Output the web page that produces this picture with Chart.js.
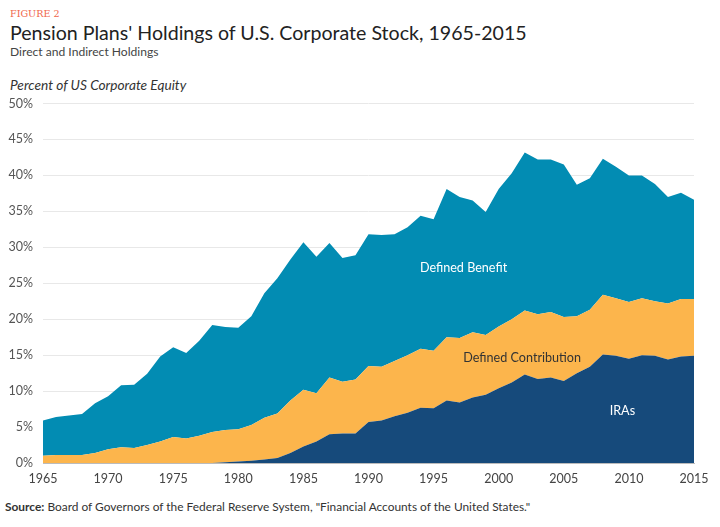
<!DOCTYPE html>
<html>
<head>
<meta charset="utf-8">
<script src="https://cdn.jsdelivr.net/npm/chart.js@4/dist/chart.umd.min.js"></script>
<style>
  html, body { margin: 0; padding: 0; background: #fff; }
  body { width: 720px; height: 527px; position: relative; overflow: hidden; font-family: Lato, "Open Sans", sans-serif; }
  .fig { position: absolute; left: 10px; top: 8px; font-family: "DejaVu Serif", serif; font-size: 9.6px; color: #f0664a; }
  .title { position: absolute; left: 10px; top: 21px; font-size: 19.6px; color: #222; white-space: nowrap; }
  .sub { position: absolute; left: 10px; top: 44px; font-size: 12.1px; color: #444; white-space: nowrap; }
  .ytitle { position: absolute; left: 10px; top: 76px; font-size: 13.7px; font-style: italic; color: #333; white-space: nowrap; }
  .source { position: absolute; left: 5px; top: 499px; font-size: 11.9px; color: #333; white-space: nowrap; }
  .source b { font-weight: 700; }
  #wrap { position: absolute; left: 0; top: 86px; width: 720px; height: 409px; }
</style>
</head>
<body>
<div class="fig">FIGURE 2</div>
<div class="title">Pension Plans' Holdings of U.S. Corporate Stock, 1965-2015</div>
<div class="sub">Direct and Indirect Holdings</div>
<div class="ytitle">Percent of US Corporate Equity</div>
<div id="wrap"><canvas id="c"></canvas></div>
<div class="source"><b>Source:</b> Board of Governors of the Federal Reserve System, "Financial Accounts of the United States."</div>
<script>
const years = [];
for (let y = 1965; y <= 2015; y++) years.push(String(y));

const yTicks = [0, 5, 10, 15, 20, 25, 30, 35, 40, 45, 50];

// Percent of US corporate equity, by plan type (stacked components)
const iras = [0,0,0,0,0,0,0,0,0,0, 0,0,0,0,0.1,0.2,0.3,0.5,0.7,1.4,
  2.3,3.0,4.0,4.1,4.1,5.7,5.9,6.5,7.0,7.7, 7.6,8.7,8.4,9.1,9.5,10.4,11.2,12.3,11.7,11.9,
  11.4,12.5,13.4,15.1,14.9,14.5,15.0,14.9,14.4,14.8,14.9];
const definedContribution = [1.0,1.1,1.1,1.1,1.4,1.9,2.2,2.1,2.5,3.0, 3.6,3.4,3.8,4.3,4.5,4.5,5.0,5.8,6.2,7.3,
  7.9,6.7,7.9,7.2,7.5,7.8,7.5,7.7,8.0,8.2, 8.0,8.8,9.0,9.1,8.3,8.6,8.8,8.9,9.0,9.1,
  8.9,7.9,7.9,8.3,8.0,7.9,7.9,7.6,7.8,8.0,7.9];
const definedBenefit = [4.9,5.3,5.5,5.7,6.9,7.4,8.6,8.8,9.9,11.8, 12.5,11.9,13.2,14.9,14.3,14.1,15.1,17.3,18.8,19.6,
  20.5,19.0,18.7,17.2,17.3,18.3,18.3,17.6,17.8,18.5, 18.3,20.6,19.6,18.3,17.1,19.1,20.3,22.0,21.5,21.2,
  21.2,18.3,18.3,18.9,18.3,17.6,17.1,16.3,14.8,14.8,13.8];

const seriesNames = ['IRAs', 'Defined Contribution', 'Defined Benefit'];

const labelPlugin = {
  id: 'areaLabels',
  afterDatasetsDraw(chart, args, opts) {
    const { ctx, scales: { x, y } } = chart;
    ctx.save();
    ctx.textAlign = 'center';
    ctx.textBaseline = 'middle';
    ctx.font = '12.6px Lato, sans-serif';
    opts.items.forEach(it => {
      ctx.fillStyle = it.color;
      ctx.fillText(it.text, x.getPixelForValue(it.x), y.getPixelForValue(it.y));
    });
    ctx.restore();
  }
};

new Chart(document.getElementById('c'), {
  type: 'line',
  data: {
    labels: years,
    datasets: [
      { label: seriesNames[0], data: iras, backgroundColor: '#164a7b', borderWidth: 0, pointRadius: 0, fill: 'origin', tension: 0 },
      { label: seriesNames[1], data: definedContribution, backgroundColor: '#fcb54c', borderWidth: 0, pointRadius: 0, fill: '-1', tension: 0 },
      { label: seriesNames[2], data: definedBenefit, backgroundColor: '#028cb3', borderWidth: 0, pointRadius: 0, fill: '-1', tension: 0 }
    ]
  },
  options: {
    responsive: true,
    maintainAspectRatio: false,
    animation: false,
    layout: { padding: { top: 8, right: 26, left: 0, bottom: 0 } },
    plugins: {
      legend: { display: false },
      tooltip: { enabled: false },
      areaLabels: {
        items: [
          { text: 'Defined Benefit', x: 32.3, y: 27.1, color: '#ffffff' },
          { text: 'Defined Contribution', x: 36.8, y: 14.6, color: '#333333' },
          { text: 'IRAs', x: 44.5, y: 7.2, color: '#ffffff' }
        ]
      }
    },
    scales: {
      x: {
        offset: false,
        grid: { display: false, drawTicks: false },
        border: { display: true, color: '#bbbbbb' },
        ticks: {
          autoSkip: false, maxRotation: 0, padding: 8,
          color: '#444', font: { family: 'Lato', size: 12.5 },
          callback: function(v, i) { const l = years[i]; return (+l % 5 === 0) ? l : ''; }
        },
        afterFit: s => { s.height = 32; }
      },
      y: {
        stacked: true,
        min: 0, max: 50,
        afterBuildTicks: s => { s.ticks = yTicks.map(v => ({ value: v })); },
        grid: { color: '#e8e8e8', lineWidth: 1, drawTicks: false },
        border: { display: false },
        ticks: { padding: 10, color: '#555', font: { family: 'Lato', size: 12.5 }, callback: v => v + '%' },
        afterFit: s => { s.width = 43; }
      }
    }
  },
  plugins: [labelPlugin]
});
</script>
</body>
</html>
